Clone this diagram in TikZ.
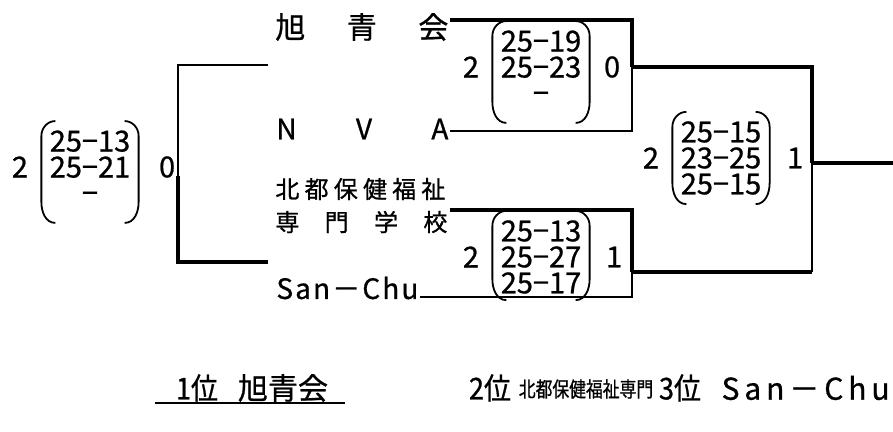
\documentclass[tikz,border=0pt]{standalone}
\usepackage{fontspec}
\setmainfont{Noto Sans CJK JP}[FakeBold=0.8]
\usepackage{tikz}
\usetikzlibrary{positioning,calc}
% round brackets round a score node, #1 = reach below the node
\newcommand{\brackets}[2][19]{%
  \draw[brk] ($(#2.north west)+(6,-9)$) to[out=180,in=90] ($(#2.north west)+(-8,6)$)
    -- ($(#2.south west)+(-8,#1-21)$) to[out=-90,in=180] ($(#2.south west)+(6,#1)$);
  \draw[brk] ($(#2.north east)+(-6,-9)$) to[out=0,in=90] ($(#2.north east)+(8,6)$)
    -- ($(#2.south east)+(8,#1-21)$) to[out=-90,in=0] ($(#2.south east)+(-6,#1)$);}

\begin{document}
\begin{tikzpicture}[x=0.5pt, y=-0.5pt,
    win/.style={line width=2.4pt},
    lose/.style={line width=1pt},
    brk/.style={line width=0.9pt},
    team/.style={anchor=west, inner sep=0pt, font=\fontsize{15}{15}\selectfont},
    setbox/.style={inner sep=0pt, align=center, font=\fontsize{14.5}{13}\selectfont},
    rank/.style={inner sep=0pt, font=\fontsize{15}{15}\selectfont}]
  \useasboundingbox (0,0) rectangle (893,432);

  % teams
  \node[team] (t1) at (275,27) {\makebox[86.5pt][s]{旭\hfill 青\hfill 会}};
  \node[team, font=\fontsize{14}{14}\selectfont] (t2) at (276,129) {\makebox[86pt][s]{N\hfill V\hfill A}};
  \node[team, font=\fontsize{12}{12}\selectfont] (t3a) at (275,189) {\makebox[85pt][s]{北\hfill 都\hfill 保\hfill 健\hfill 福\hfill 祉}};
  \node[team, font=\fontsize{12}{12}\selectfont] (t3b) at (275,222) {\makebox[86pt][s]{専\hfill 門\hfill 学\hfill 校}};
  \node[team, font=\fontsize{14}{14}\selectfont] (t4) at (276,288) {\makebox[71pt][s]{S\hfill a\hfill n\hfill －\hfill C\hfill h\hfill u}};

  % bracket points
  \coordinate (e1) at (450,20);
  \coordinate (e2) at (450,131);
  \coordinate (e3) at (450,210);
  \coordinate (e4) at (420,297);
  \coordinate (m1) at (632,67);
  \coordinate (m2) at (632,272);
  \coordinate (fin) at (812,163);
  \coordinate (f2) at (812,272);
  \coordinate (out) at (893,163);
  \coordinate (b1) at (268,65);
  \coordinate (b2) at (268,262);
  \coordinate (bm) at (178,176);

  \draw[win] (e1) -| (m1);
  \draw[lose] (e2) -| (m1);
  \draw[win] (e3) -| (m2);
  \draw[lose] (e4) -| (m2);
  \draw[win] (m1) -| (fin);
  \draw[win] (m2) -- (f2);
  \draw[lose] (f2) -- (fin);
  \draw[win] (fin) -- (out);
  \draw[lose] (b1) -| (bm);
  \draw[win] (b2) -| (bm);

  % scores
  \node[setbox] (s1) at (541,67) {25−19\\25−23\\−};
  \node[setbox, left=10.5pt of s1] (s1l) {2};
  \node[setbox, right=11pt of s1] (s1r) {0};
  \brackets{s1}
  \node[setbox] (s2) at (541,257) {25−13\\25−27\\25−17};
  \node[setbox, left=10.5pt of s2] (s2l) {2};
  \node[setbox, right=12pt of s2] (s2r) {1};
  \brackets[6]{s2}
  \node[setbox] (s3) at (721,158) {25−15\\23−25\\25−15};
  \node[setbox, left=10.5pt of s3] (s3l) {2};
  \node[setbox, right=12.5pt of s3] (s3r) {1};
  \brackets[9]{s3}
  \node[setbox] (s4) at (90,167) {25−13\\25−21\\−};
  \node[setbox, left=10.5pt of s4] (s4l) {2};
  \node[setbox, right=14pt of s4] (s4r) {0};
  \brackets{s4}

  % final standing
  \node[rank] (r1) at (197,388) {\scalebox{0.9}[1]{1位}};
  \node[rank] (r1t) at (283,388) {旭青会};
  \node[rank] (r2) at (490,388) {\scalebox{0.9}[1]{2位}};
  \node[rank, font=\fontsize{10.5}{10.5}\selectfont] (r2t) at (586,389) {\scalebox{0.8}[1]{北都保健福祉専門}};
  \node[rank] (r3) at (680,388) {\scalebox{0.9}[1]{3位}};
  \node[rank, anchor=east] (r3t) at (890,388) {\makebox[84pt][s]{S\hfill a\hfill n\hfill －\hfill C\hfill h\hfill u}};
  \coordinate (u1) at (155,403);
  \coordinate (u2) at (345,403);
  \draw[lose] (u1) -- (u2);
\end{tikzpicture}
\end{document}
